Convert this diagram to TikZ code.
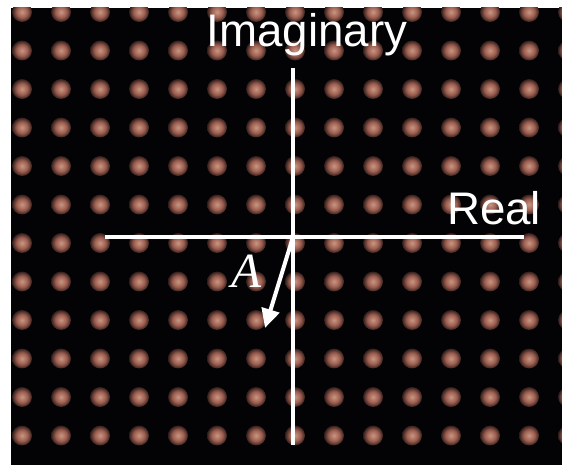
\documentclass[tikz,border=0pt]{standalone}
\usepackage{fontspec}
\setmainfont{Liberation Sans}
\newfontfamily\letterfont{Liberation Serif}
\usetikzlibrary{arrows.meta}
\definecolor{dotlight}{HTML}{C99683}
\definecolor{dotmid}{HTML}{9C5E50}
\definecolor{bg}{HTML}{030205}
\pgfdeclareradialshading{bead}{\pgfpoint{0bp}{0bp}}{color(0bp)=(dotlight); color(14bp)=(dotmid); color(30bp)=(bg); color(50bp)=(bg)}

\begin{document}
\begin{tikzpicture}[x=0.02cm,y=-0.02cm,font=\fontsize{26}{30}\selectfont,
  axis/.style={white,line width=2.3pt},
  lbl/.style={text=white,inner sep=0pt,anchor=base}]
  \useasboundingbox (0,0) rectangle (562,465);
  % background
  \fill[bg] (11,8) rectangle (564,467);
  % beads
  \begin{scope}
   \clip (11,8) rectangle (564,467);
   \foreach \i in {0,...,14}
    \foreach \j in {0,...,11}
     \shade[shading=bead] ({22+39*\i},{12+38.5*\j}) circle (10);
  \end{scope}
  % axes
  \coordinate (origin) at (293,237);
  \coordinate (realL) at (105,237);
  \coordinate (realR) at (524,237);
  \coordinate (imagT) at (293,68);
  \coordinate (imagB) at (293,445);
  \coordinate (tipA) at (265,328);
  \draw[axis] (realL) -- (realR);
  \draw[axis] (imagT) -- (imagB);
  \draw[axis,-{Triangle[width=0.36cm,length=0.38cm]}] (origin) -- (tipA);
  % labels
  \node[lbl] (imaglbl) at (307,47) {Imaginary};
  \node[lbl] (reallbl) at (494,225) {Real};
  \node[lbl,font=\fontsize{28}{30}\letterfont\itshape] (vecA) at (247,288) {A};
\end{tikzpicture}
\end{document}
